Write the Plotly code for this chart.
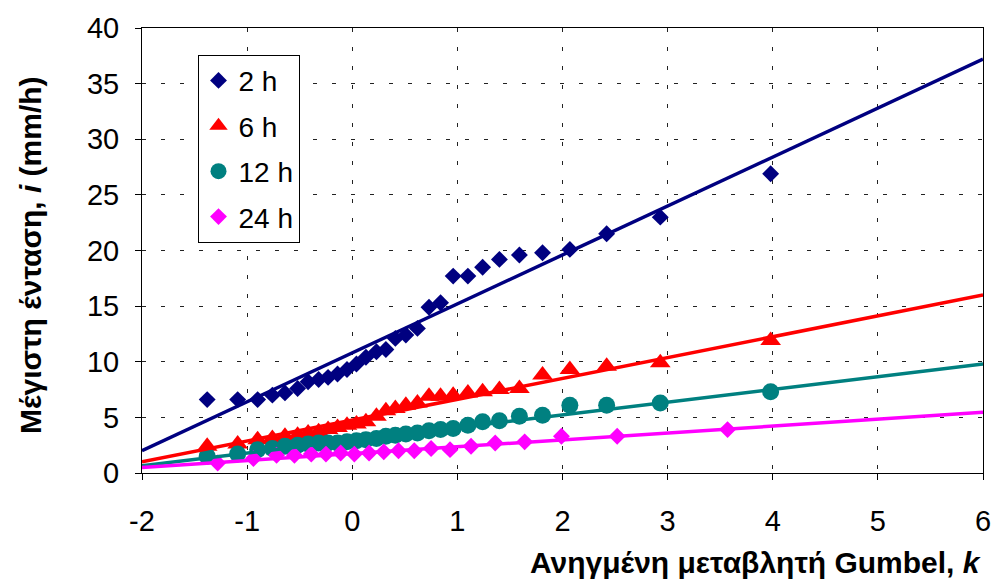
import plotly.graph_objects as go

# Gumbel reduced variate (plotting positions), n = 30 for 2 h, 6 h, 12 h
k30 = [-1.38, -1.09, -0.90, -0.76, -0.64, -0.52, -0.42, -0.32, -0.23, -0.14,
       -0.05, 0.04, 0.13, 0.23, 0.32, 0.41, 0.51, 0.62, 0.73, 0.84,
       0.96, 1.10, 1.24, 1.40, 1.59, 1.81, 2.07, 2.42, 2.93, 3.98]
# n = 20 for 24 h
k20 = [-1.28, -0.94, -0.72, -0.55, -0.39, -0.25, -0.11, 0.02, 0.16, 0.30,
       0.44, 0.59, 0.75, 0.93, 1.13, 1.36, 1.64, 1.99, 2.52, 3.57]

i_2h = [6.6, 6.6, 6.6, 7.0, 7.2, 7.6, 8.2, 8.4, 8.6, 8.9,
        9.3, 9.8, 10.4, 10.9, 11.1, 12.1, 12.4, 13.0, 14.9, 15.3,
        17.7, 17.7, 18.5, 19.2, 19.6, 19.8, 20.1, 21.5, 23.0, 26.9]
i_6h = [2.4, 2.6, 3.0, 3.1, 3.3, 3.4, 3.6, 3.7, 3.9, 4.1,
        4.3, 4.4, 4.6, 5.1, 5.6, 5.8, 6.1, 6.3, 6.9, 6.9,
        7.0, 7.2, 7.3, 7.5, 7.6, 8.8, 9.3, 9.6, 9.9, 11.9]
i_12h = [1.5, 1.7, 2.1, 2.2, 2.4, 2.5, 2.6, 2.7, 2.7, 2.7,
         2.8, 2.9, 3.0, 3.1, 3.3, 3.4, 3.5, 3.6, 3.8, 3.9,
         4.0, 4.3, 4.6, 4.7, 5.1, 5.2, 6.1, 6.1, 6.3, 7.3]
i_24h = [0.9, 1.3, 1.6, 1.6, 1.7, 1.7, 1.8, 1.7, 1.8, 1.9,
         2.0, 2.0, 2.2, 2.1, 2.4, 2.7, 2.8, 3.3, 3.3, 3.9]

# fitted straight lines (end points)
fit_k = [-2, 6]
fit_2h = [2.0, 37.2]
fit_6h = [1.0, 16.0]
fit_12h = [0.65, 9.8]
fit_24h = [0.5, 5.45]

series_names = ["2 h", "6 h", "12 h", "24 h"]
x_ticks = [-2, -1, 0, 1, 2, 3, 4, 5, 6]
x_tick_labels = ["-2", "-1", "0", "1", "2", "3", "4", "5", "6"]
y_ticks = [0, 5, 10, 15, 20, 25, 30, 35, 40]
y_tick_labels = ["0", "5", "10", "15", "20", "25", "30", "35", "40"]

FONT = "Liberation Sans, Arial, sans-serif"
colors = ["#000080", "#FF0000", "#008080", "#FF00FF"]
symbols = ["diamond", "triangle-up", "circle", "diamond"]
msizes = [13, 18, 17, 13]

pts = [(k30, i_2h), (k30, i_6h), (k30, i_12h), (k20, i_24h)]
fits = [fit_2h, fit_6h, fit_12h, fit_24h]

fig = go.Figure()
for n, (xs, ys), c, s, ms in zip(series_names, pts, colors, symbols, msizes):
    fig.add_trace(go.Scatter(
        x=xs, y=ys, mode="markers", name=n, legendgroup=n,
        marker=dict(symbol=s, size=ms, color=c, line=dict(width=0)),
    ))
for n, fy, c in zip(series_names, fits, colors):
    fig.add_trace(go.Scatter(
        x=fit_k, y=fy, mode="lines", showlegend=False, legendgroup=n,
        line=dict(color=c, width=3.5), hoverinfo="skip",
    ))

axis_common = dict(
    showline=True, linecolor="black", linewidth=1, mirror=True,
    ticks="outside", ticklen=6, tickcolor="black", tickwidth=1,
    showgrid=True, gridcolor="#222222", gridwidth=1, griddash="4px,15px",
    zeroline=False, tickfont=dict(family=FONT, size=29, color="black"),
)

fig.update_xaxes(range=[-2, 6], tickvals=x_ticks, ticktext=x_tick_labels,
                 ticklabelstandoff=16, **axis_common)
fig.update_yaxes(range=[0, 40], tickvals=y_ticks, ticktext=y_tick_labels,
                 ticklabelstandoff=10, **axis_common)

fig.add_annotation(
    text="<b>Ανηγμένη μεταβλητή Gumbel, <i>k</i></b>",
    xref="paper", yref="paper", x=1.0, y=-0.2, xanchor="right", yanchor="middle",
    showarrow=False, font=dict(family=FONT, size=30, color="black"),
)
fig.add_annotation(
    text="<b>Μέγιστη ένταση, <i>i</i> (mm/h)</b>",
    xref="paper", yref="paper", x=-0.132, y=0.49, xanchor="center", yanchor="middle",
    textangle=-90, showarrow=False, font=dict(family=FONT, size=30, color="black"),
)

fig.update_layout(
    width=1003, height=580,
    margin=dict(l=142, r=14, t=27, b=107),
    paper_bgcolor="white", plot_bgcolor="white",
    font=dict(family=FONT, color="black"),
    legend=dict(
        x=0.066, y=0.94, xanchor="left", yanchor="top",
        bgcolor="white", bordercolor="black", borderwidth=1,
        font=dict(family=FONT, size=28, color="black"),
        traceorder="grouped", tracegroupgap=6,
    ),
    showlegend=True,
)

fig.write_html("out.html")
